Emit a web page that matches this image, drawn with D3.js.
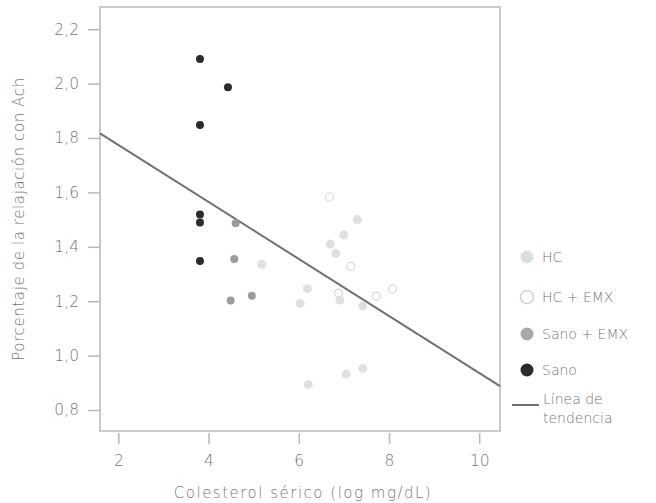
<!DOCTYPE html>
<html>
<head>
<meta charset="utf-8">
<script src="https://cdn.jsdelivr.net/npm/d3@7/dist/d3.min.js"></script>
<style>
  body { margin: 0; background: #fff; }
  text { font-family: "DejaVu Sans", Lato, sans-serif; fill: #777; font-weight: 200; }
</style>
</head>
<body>
<div class="chart"></div>
<script>
// data
var sanoX = [3.81, 4.43, 3.81, 3.81, 3.81, 3.81];
var sanoY = [2.09, 1.987, 1.848, 1.519, 1.489, 1.348];

var sanoEmxX = [4.60, 4.57, 4.49, 4.96];
var sanoEmxY = [1.487, 1.355, 1.203, 1.220];

var hcX = [7.30, 7.00, 6.70, 6.82, 5.18, 6.03, 6.91, 7.42, 7.05, 7.42, 6.21, 6.19];
var hcY = [1.50, 1.443, 1.41, 1.376, 1.336, 1.192, 1.204, 1.182, 0.932, 0.953, 0.894, 1.246];

var hcEmxX = [6.68, 7.15, 6.88, 7.72, 8.08];
var hcEmxY = [1.583, 1.328, 1.230, 1.219, 1.245];

// trend line end points
var trendX = [1.594, 10.46];
var trendY = [1.817, 0.888];

var xTicks = [2, 4, 6, 8, 10];
var yTicks = [0.8, 1.0, 1.2, 1.4, 1.6, 1.8, 2.0, 2.2];

var legendNames = ["HC", "HC + EMX", "Sano + EMX", "Sano"];

var svgWidth = 656, svgHeight = 503;
var margin = { top: 7, left: 100, right: 156, bottom: 72 };
var width = svgWidth - margin.left - margin.right;
var height = svgHeight - margin.top - margin.bottom;

var svg = d3.select(".chart").append("svg")
  .attr("width", svgWidth)
  .attr("height", svgHeight);

var chartGroup = svg.append("g")
  .attr("transform", `translate(${margin.left}, ${margin.top})`);

var xScale = d3.scaleLinear().domain([1.594, 10.46]).range([0, width]);
var yScale = d3.scaleLinear().domain([0.7228, 2.2816]).range([height, 0]);

// frame
chartGroup.append("rect")
  .attr("width", width)
  .attr("height", height)
  .attr("fill", "none")
  .attr("stroke", "#b8b8b8")
  .attr("stroke-width", 1.5);

var fmt = d3.format(".1f");

var yAxis = chartGroup.append("g")
  .call(d3.axisLeft(yScale).tickValues(yTicks).tickSize(12).tickPadding(9)
    .tickFormat(d => fmt(d).replace(".", ",")));
yAxis.select(".domain").remove();
yAxis.selectAll("line").attr("stroke", "#b8b8b8").attr("stroke-width", 1.5);
yAxis.selectAll("text").style("font-size", "15.5px").attr("fill", "#777");

var xAxis = chartGroup.append("g")
  .attr("transform", `translate(0, ${height + 2})`)
  .call(d3.axisBottom(xScale).tickValues(xTicks).tickSize(11).tickPadding(11));
xAxis.select(".domain").remove();
xAxis.selectAll("line").attr("stroke", "#b8b8b8").attr("stroke-width", 1.5);
xAxis.selectAll("text").style("font-size", "15.5px").attr("fill", "#777");

// axis titles
chartGroup.append("text")
  .attr("x", width / 2 + 3)
  .attr("y", height + 67)
  .attr("text-anchor", "middle")
  .style("font-size", "15px")
  .style("letter-spacing", "1.5px")
  .text("Colesterol sérico (log mg/dL)");

chartGroup.append("text")
  .attr("transform", `translate(${-76}, ${height / 2}) rotate(-90)`)
  .attr("text-anchor", "middle")
  .style("font-size", "15px")
  .style("letter-spacing", "0.6px")
  .text("Porcentaje de la relajación con Ach");

// trend line
chartGroup.append("line")
  .attr("x1", xScale(trendX[0])).attr("y1", yScale(trendY[0]))
  .attr("x2", xScale(trendX[1])).attr("y2", yScale(trendY[1]))
  .attr("stroke", "#707070")
  .attr("stroke-width", 2);

function dots(xs, ys, fill, stroke, r) {
  chartGroup.append("g").selectAll("circle")
    .data(xs.map((x, i) => ({ x: x, y: ys[i] })))
    .enter()
    .append("circle")
    .attr("cx", d => xScale(d.x))
    .attr("cy", d => yScale(d.y))
    .attr("r", r)
    .attr("fill", fill)
    .attr("stroke", stroke)
    .attr("stroke-width", 1.2);
}

dots(hcX, hcY, "#e0e0e0", "none", 4.5);
dots(hcEmxX, hcEmxY, "#fff", "#d8d8d8", 4);
dots(sanoEmxX, sanoEmxY, "#9c9c9c", "none", 4);
dots(sanoX, sanoY, "#2b2b2b", "none", 4);

// legend
var legendFill = ["#dedede", "#fff", "#a8a8a8", "#2b2b2b"];
var legendStroke = ["none", "#d2d2d2", "none", "none"];
var legendY = [257, 297, 334, 370];

var legend = svg.append("g");
legend.selectAll("circle")
  .data(legendNames)
  .enter()
  .append("circle")
  .attr("cx", 527)
  .attr("cy", (d, i) => legendY[i])
  .attr("r", 6.5)
  .attr("fill", (d, i) => legendFill[i])
  .attr("stroke", (d, i) => legendStroke[i])
  .attr("stroke-width", 1.5);

legend.selectAll("text.name")
  .data(legendNames)
  .enter()
  .append("text")
  .attr("class", "name")
  .attr("x", 542)
  .attr("y", (d, i) => legendY[i] + 5)
  .style("font-size", "14px")
  .text(d => d);

legend.append("line")
  .attr("x1", 512).attr("x2", 539)
  .attr("y1", 405).attr("y2", 405)
  .attr("stroke", "#707070")
  .attr("stroke-width", 2);

legend.append("text")
  .attr("x", 543).attr("y", 404)
  .style("font-size", "14px")
  .text("Línea de");
legend.append("text")
  .attr("x", 543).attr("y", 423)
  .style("font-size", "14px")
  .text("tendencia");
</script>
</body>
</html>
